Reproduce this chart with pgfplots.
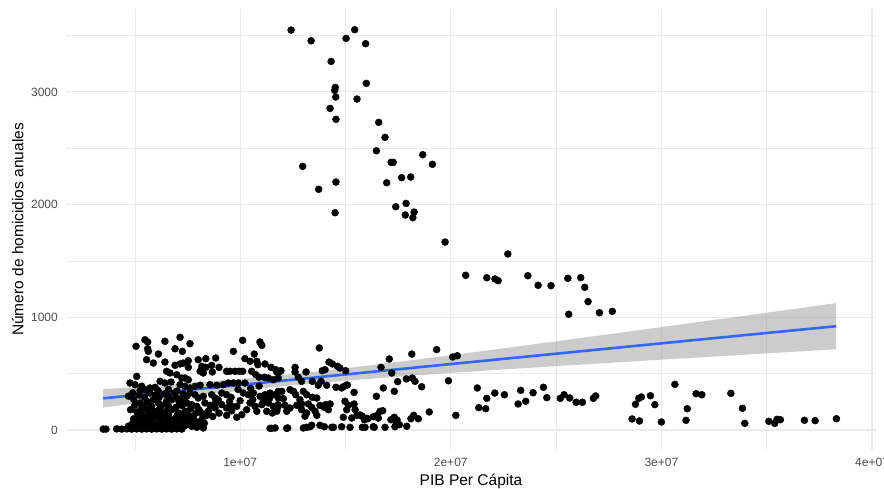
\documentclass[border=0pt]{standalone}
\usepackage{fontspec}
\setmainfont{Liberation Sans}
\usepackage{pgfplots}
\usepackage{pgfplotstable}
\usepgfplotslibrary{fillbetween}
\pgfplotsset{compat=1.18}
\definecolor{gridgray}{HTML}{EBEBEB}
\definecolor{ticktext}{HTML}{4D4D4D}
\definecolor{fitblue}{HTML}{3366FF}

% PIB per capita vs homicidios
\pgfplotstableread{
x y
1.242e7 3549
1.544e7 3552
1.337e7 3454
1.503e7 3475
1.596e7 3428
1.432e7 3271
1.599e7 3076
1.449e7 3014
1.452e7 3040
1.454e7 2955
1.555e7 2937
1.427e7 2854
1.455e7 2757
1.658e7 2730
1.688e7 2597
1.647e7 2478
1.867e7 2443
1.913e7 2358
1.297e7 2340
1.717e7 2375
1.727e7 2375
1.767e7 2239
1.810e7 2245
1.455e7 2200
1.696e7 2194
1.373e7 2136
1.739e7 1981
1.788e7 2011
1.451e7 1928
1.784e7 1908
1.826e7 1934
1.820e7 1884
1.973e7 1668
2.271e7 1562
2.071e7 1373
2.171e7 1351
2.210e7 1340
2.225e7 1325
2.366e7 1369
2.415e7 1284
2.476e7 1281
2.556e7 1346
2.617e7 1352
2.636e7 1266
2.652e7 1139
2.560e7 1027
2.706e7 1041
2.767e7 1053
2.009e7 648
2.031e7 659
1.989e7 437
2.024e7 130
2.126e7 373
2.133e7 198
2.166e7 189
2.171e7 281
2.209e7 328
2.255e7 313
2.320e7 231
2.332e7 352
2.356e7 255
2.391e7 331
2.440e7 379
2.456e7 287
2.520e7 281
2.538e7 313
2.565e7 284
2.595e7 246
2.625e7 246
2.677e7 281
2.688e7 302
2.861e7 98
2.877e7 228
2.893e7 281
2.905e7 293
2.896e7 80
2.948e7 304
2.969e7 225
3.000e7 71
3.064e7 405
3.117e7 86
3.123e7 189
3.165e7 322
3.192e7 313
3.330e7 325
3.385e7 193
3.396e7 59
3.510e7 77
3.538e7 59
3.549e7 95
3.565e7 91
3.679e7 86
3.730e7 83
3.831e7 100
1.815e7 674
1.933e7 713
1.708e7 630
1.669e7 556
1.720e7 506
1.748e7 429
1.789e7 453
1.818e7 461
1.830e7 432
1.862e7 384
1.680e7 373
1.732e7 343
1.647e7 299
1.898e7 160
1.606e7 100
1.650e7 130
1.664e7 166
1.677e7 171
1.656e7 106
1.637e7 24
1.688e7 24
1.716e7 91
1.732e7 113
1.745e7 89
1.740e7 47
1.756e7 47
1.791e7 33
1.811e7 100
1.824e7 130
1.846e7 100
1.593e7 24
1.376e7 728
1.422e7 603
1.438e7 586
1.462e7 565
1.474e7 550
1.501e7 526
1.261e7 556
1.261e7 515
1.313e7 515
1.390e7 526
1.403e7 535
1.194e7 526
1.174e7 515
1.276e7 468
1.292e7 432
1.343e7 432
1.384e7 432
1.371e7 397
1.411e7 397
1.455e7 379
1.482e7 373
1.503e7 397
1.541e7 334
1.237e7 358
1.253e7 343
1.264e7 313
1.198e7 343
1.181e7 284
1.205e7 278
1.300e7 343
1.316e7 313
1.343e7 290
1.364e7 284
1.284e7 269
1.292e7 231
1.269e7 219
1.324e7 231
1.340e7 201
1.379e7 219
1.406e7 225
1.427e7 231
1.213e7 219
1.237e7 195
1.221e7 166
1.181e7 210
1.174e7 166
1.292e7 180
1.316e7 151
1.308e7 122
1.356e7 166
1.364e7 130
1.400e7 201
1.419e7 180
1.498e7 255
1.514e7 219
1.506e7 180
1.541e7 231
1.546e7 180
1.490e7 113
1.530e7 106
1.554e7 130
1.580e7 122
1.590e7 91
1.522e7 24
1.580e7 24
1.226e7 18
1.300e7 18
1.316e7 24
1.332e7 29
1.340e7 42
1.379e7 42
1.400e7 29
1.443e7 24
1.166e7 18
1.490e7 384
1.509e7 399
1.569e7 133
1.601e7 104
1.632e7 118
1.482e7 29
1.632e7 29
1.735e7 29
1.150e7 15
1.221e7 15
1.435e7 24
1.012e7 796
1.094e7 781
1.103e7 751
0.968e7 698
1.067e7 674
0.762e7 766
1.023e7 633
1.047e7 610
1.079e7 610
1.084e7 580
1.118e7 586
1.147e7 556
1.169e7 535
1.189e7 521
0.801e7 624
0.837e7 633
0.884e7 639
0.754e7 615
0.818e7 565
0.837e7 556
0.865e7 574
0.900e7 556
0.810e7 521
0.825e7 506
0.868e7 515
0.936e7 521
0.952e7 521
0.976e7 521
0.995e7 521
1.012e7 521
1.055e7 521
1.074e7 491
1.090e7 468
1.115e7 468
1.134e7 461
1.158e7 446
1.181e7 461
0.738e7 461
0.754e7 446
0.944e7 417
0.968e7 417
0.991e7 417
1.023e7 417
0.786e7 388
0.810e7 397
0.857e7 402
0.889e7 397
0.920e7 402
0.762e7 328
0.786e7 313
0.801e7 284
0.825e7 299
0.865e7 313
0.881e7 284
0.896e7 269
0.913e7 328
0.936e7 313
0.957e7 290
1.015e7 328
1.039e7 313
1.063e7 328
1.095e7 299
1.118e7 313
1.142e7 328
1.166e7 313
1.181e7 343
0.746e7 240
0.770e7 225
0.794e7 210
0.833e7 240
0.857e7 219
0.881e7 195
0.913e7 225
0.936e7 195
0.960e7 210
0.984e7 210
1.047e7 240
1.071e7 210
1.103e7 225
1.134e7 240
1.158e7 210
1.179e7 225
0.754e7 136
0.778e7 122
0.818e7 151
0.841e7 130
0.936e7 130
0.984e7 113
1.008e7 136
1.031e7 180
1.079e7 166
1.126e7 166
1.153e7 151
1.174e7 180
0.746e7 47
0.770e7 33
0.794e7 24
0.825e7 18
1.142e7 15
0.506e7 743
0.548e7 801
0.561e7 781
0.643e7 787
0.715e7 823
0.561e7 721
0.564e7 698
0.612e7 674
0.691e7 721
0.726e7 698
0.556e7 624
0.588e7 594
0.643e7 603
0.691e7 574
0.715e7 586
0.730e7 594
0.754e7 556
0.651e7 521
0.667e7 506
0.699e7 491
0.723e7 461
0.509e7 476
0.477e7 417
0.501e7 402
0.533e7 388
0.572e7 373
0.596e7 379
0.620e7 432
0.643e7 417
0.672e7 426
0.548e7 358
0.572e7 328
0.715e7 402
0.738e7 388
0.762e7 373
0.588e7 269
0.612e7 240
0.628e7 219
0.651e7 255
0.675e7 269
0.699e7 284
0.723e7 269
0.746e7 299
0.533e7 195
0.556e7 180
0.580e7 171
0.604e7 166
0.628e7 151
0.651e7 166
0.675e7 180
0.707e7 151
0.738e7 166
0.517e7 122
0.540e7 106
0.564e7 91
0.588e7 106
0.620e7 91
0.651e7 106
0.683e7 91
0.715e7 106
0.746e7 91
0.548e7 62
0.580e7 62
0.612e7 62
0.643e7 62
0.675e7 62
0.707e7 62
0.738e7 62
0.470e7 300
0.495e7 270
0.520e7 310
0.525e7 240
0.545e7 290
0.560e7 250
0.600e7 310
0.615e7 290
0.640e7 320
0.660e7 300
0.690e7 330
0.710e7 250
0.730e7 320
0.500e7 220
0.510e7 160
0.490e7 60
0.530e7 50
0.600e7 40
0.640e7 45
0.690e7 50
0.720e7 55
0.575e7 130
0.610e7 125
0.660e7 135
0.700e7 125
0.730e7 130
0.480e7 180
0.520e7 80
0.760e7 60
0.780e7 90
0.800e7 70
0.830e7 60
0.350e7 8
0.363e7 8
0.414e7 10
0.438e7 8
0.462e7 10
0.485e7 8
0.509e7 10
0.533e7 8
0.556e7 10
0.580e7 8
0.604e7 10
0.628e7 8
0.651e7 10
0.675e7 8
0.699e7 10
0.723e7 8
0.470e7 35
0.500e7 40
0.545e7 30
0.570e7 45
0.590e7 25
0.625e7 35
0.660e7 30
0.700e7 30
0.735e7 35
0.770e7 55
0.805e7 40
0.495e7 100
0.530e7 140
0.555e7 120
0.595e7 145
0.635e7 140
0.665e7 80
0.700e7 95
0.755e7 110
0.790e7 150
0.820e7 100
0.850e7 170
0.870e7 120
0.900e7 150
0.960e7 170
0.545e7 220
0.580e7 210
0.620e7 195
0.660e7 210
0.695e7 200
0.725e7 215
0.765e7 190
0.805e7 180
0.490e7 330
0.525e7 350
0.610e7 350
0.660e7 360
0.700e7 345
0.880e7 230
0.950e7 250
1.000e7 260
1.060e7 270
1.110e7 260
1.140e7 280
0.990e7 360
1.050e7 370
1.090e7 390
}\homicidios

% recta de regresion y banda de confianza
\pgfplotstableread{
x lo hi fit
3.5e6 200 362 281
6e6 260 394 327
9e6 328 437 382
1.2e7 388 487 437
1.5e7 438 547 493
2e7 507 663 585
2.5e7 567 787 677
3e7 624 913 769
3.5e7 680 1041 861
3.83e7 717 1126 921
}\ajuste

\begin{document}
\begin{tikzpicture}
\begin{axis}[
  scale only axis,
  width=810pt, height=441pt,
  xmin=1.733e6, xmax=4.019e7,
  ymin=-177.5, ymax=3736,
  axis line style={draw=none},
  major tick length=0pt, minor tick length=0pt,
  scaled x ticks=false, scaled y ticks=false,
  xtick={1e7,2e7,3e7,4e7},
  xticklabels={1e+07,2e+07,3e+07,4e+07},
  minor xtick={5e6,1.5e7,2.5e7,3.5e7},
  ytick={0,1000,2000,3000},
  yticklabels={0,1000,2000,3000},
  minor ytick={500,1500,2500,3500},
  grid=both,
  major grid style={gridgray, line width=1.1pt},
  minor grid style={gridgray, line width=0.55pt},
  tick label style={font=\fontsize{12}{14}\selectfont, text=ticktext, inner sep=0pt},
  xticklabel style={anchor=north, yshift=-7.5pt},
  yticklabel style={anchor=east, xshift=-8pt},
  xlabel={PIB Per Cápita},
  ylabel={Número de homicidios anuales},
  label style={font=\fontsize{15.5}{18}\selectfont, inner sep=0pt},
  xlabel style={at={(axis description cs:0.5,-0.0805)}, anchor=base},
  ylabel style={at={(axis description cs:-0.0525,0.5)}, anchor=base},
]
\coordinate (SW) at (rel axis cs:0,0);
\addplot[only marks, mark=*, mark size=3.5pt, mark options={draw=none, fill=black}]
  table[x=x, y=y]{\homicidios};
\addplot[name path=hi, draw=none, forget plot] table[x=x, y=hi]{\ajuste};
\addplot[name path=lo, draw=none, forget plot] table[x=x, y=lo]{\ajuste};
\addplot[fill=black!40, fill opacity=0.5, draw=none] fill between[of=hi and lo];
\addplot[fitblue, line width=2.6pt] table[x=x, y=fit]{\ajuste};
\end{axis}
\pgfresetboundingbox
\path[use as bounding box] ([xshift=-66pt, yshift=-38pt]SW) rectangle ([xshift=818pt, yshift=450pt]SW);
\end{tikzpicture}
\end{document}
